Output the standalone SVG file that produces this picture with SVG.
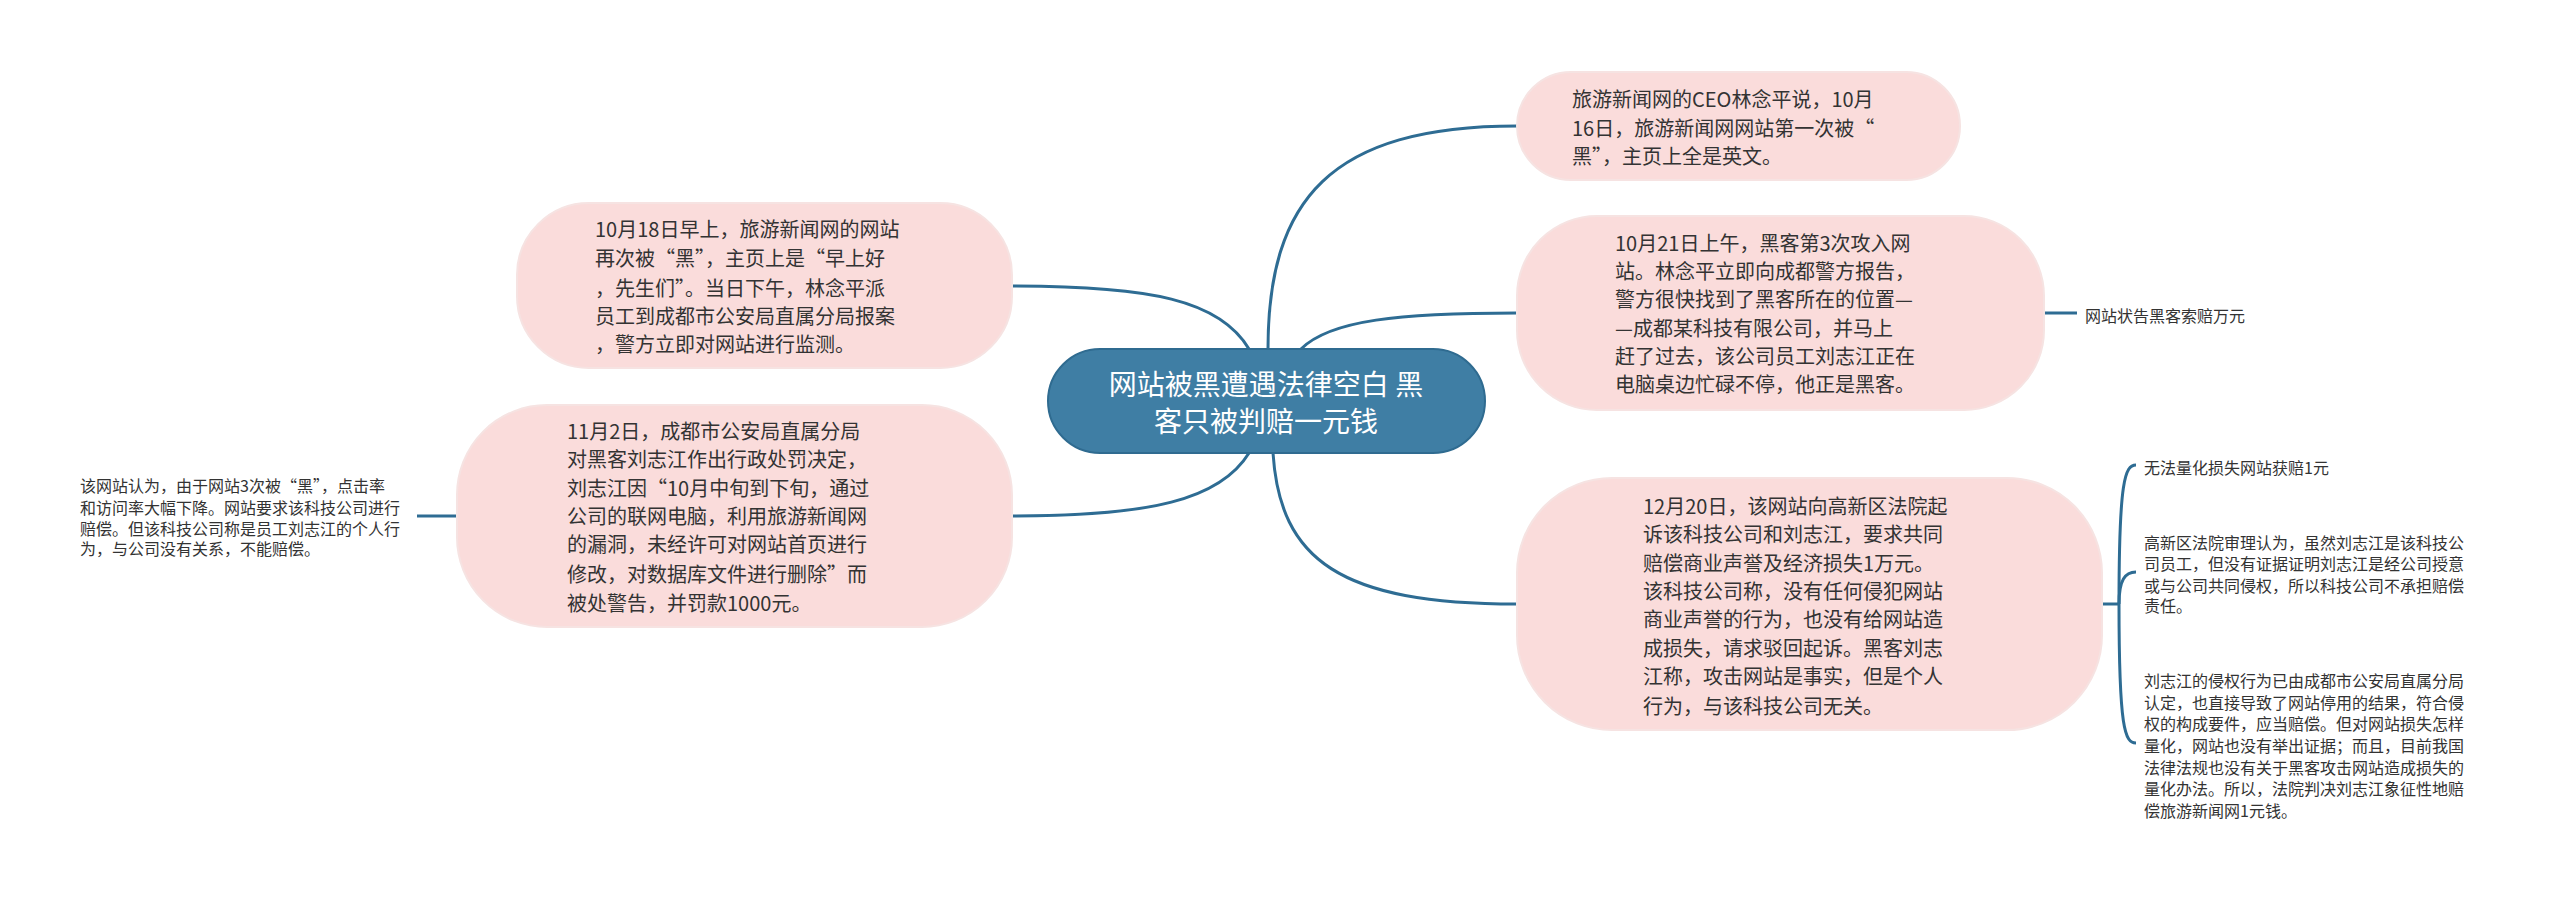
<svg xmlns="http://www.w3.org/2000/svg" width="2560" height="899" viewBox="0 0 2560 899">
<style>
.n{fill:#fadcdb;stroke:#f6e3e2;stroke-width:2}
.c{fill:#3f7ea4;stroke:#2f6b90;stroke-width:2}
.t{font-family:"Noto Sans CJK SC","Liberation Sans",sans-serif;font-size:20px;fill:#333;dominant-baseline:central}
.ct{font-family:"Noto Sans CJK SC","Liberation Sans",sans-serif;font-size:28px;fill:#fff;dominant-baseline:central;text-anchor:middle}
.s{font-family:"Noto Sans CJK SC","Liberation Sans",sans-serif;font-size:16px;fill:#333;dominant-baseline:central}
.l{fill:none;stroke:#2e6c93;stroke-width:3}
</style>
<rect width="2560" height="899" fill="#fff"/>
<g id="connectors">
<path class="l" d="M1268 349 C1268 200 1330 126 1517 126"/>
<path class="l" d="M1301 349 C1330 320 1400 313 1517 313"/>
<path class="l" d="M1249 349 C1220 300 1150 286 1012 286"/>
<path class="l" d="M1249 453 C1220 500 1150 516 1012 516"/>
<path class="l" d="M1273 453 C1280 560 1340 604 1517 604"/>
<path class="l" d="M457 516 L417 516"/>
<path class="l" d="M2044 313 L2077 313"/>
<path class="l" d="M2102 604 L2119 604"/>
<path class="l" stroke-width="2" d="M2119 604 C2119 480 2125 465 2136 465"/>
<path class="l" stroke-width="2" d="M2119 604 C2119 580 2125 572 2136 572"/>
<path class="l" stroke-width="2" d="M2119 604 C2119 730 2125 743 2136 743"/>
</g>
<g id="center"><rect class="c" x="1048" y="349" width="437" height="104" rx="52"/>
<text class="ct" x="1266" y="383">网站被黑遭遇法律空白 黑</text><text class="ct" x="1266" y="420">客只被判赔一元钱</text></g>
<g id="n1"><rect class="n" x="1517" y="72" width="443" height="108" rx="54"/>
<text class="t" x="1572" y="98">旅游新闻网的CEO林念平说，10月</text><text class="t" x="1572" y="127">16日，旅游新闻网网站第一次被“</text><text class="t" x="1572" y="155">黑”，主页上全是英文。</text></g>
<g id="n2"><rect class="n" x="1517" y="216" width="527" height="194" rx="80"/>
<text class="t" x="1615" y="242">10月21日上午，黑客第3次攻入网</text><text class="t" x="1615" y="270">站。林念平立即向成都警方报告，</text><text class="t" x="1615" y="298">警方很快找到了黑客所在的位置—</text><text class="t" x="1615" y="327">—成都某科技有限公司，并马上</text><text class="t" x="1615" y="355">赶了过去，该公司员工刘志江正在</text><text class="t" x="1615" y="383">电脑桌边忙碌不停，他正是黑客。</text></g>
<g id="n2a"><text class="s" x="2085" y="315">网站状告黑客索赔万元</text></g>
<g id="n3"><rect class="n" x="1517" y="478" width="585" height="252" rx="95"/>
<text class="t" x="1643" y="505">12月20日，该网站向高新区法院起</text><text class="t" x="1643" y="533">诉该科技公司和刘志江，要求共同</text><text class="t" x="1643" y="562">赔偿商业声誉及经济损失1万元。</text><text class="t" x="1643" y="590">该科技公司称，没有任何侵犯网站</text><text class="t" x="1643" y="618">商业声誉的行为，也没有给网站造</text><text class="t" x="1643" y="647">成损失，请求驳回起诉。黑客刘志</text><text class="t" x="1643" y="675">江称，攻击网站是事实，但是个人</text><text class="t" x="1643" y="705">行为，与该科技公司无关。</text></g>
<g id="n3a"><text class="s" x="2144" y="467">无法量化损失网站获赔1元</text></g>
<g id="n3b"><text class="s" x="2144" y="542">高新区法院审理认为，虽然刘志江是该科技公</text><text class="s" x="2144" y="563">司员工，但没有证据证明刘志江是经公司授意</text><text class="s" x="2144" y="585">或与公司共同侵权，所以科技公司不承担赔偿</text><text class="s" x="2144" y="605">责任。</text></g>
<g id="n3c"><text class="s" x="2144" y="680">刘志江的侵权行为已由成都市公安局直属分局</text><text class="s" x="2144" y="702">认定，也直接导致了网站停用的结果，符合侵</text><text class="s" x="2144" y="723">权的构成要件，应当赔偿。但对网站损失怎样</text><text class="s" x="2144" y="745">量化，网站也没有举出证据；而且，目前我国</text><text class="s" x="2144" y="767">法律法规也没有关于黑客攻击网站造成损失的</text><text class="s" x="2144" y="788">量化办法。所以，法院判决刘志江象征性地赔</text><text class="s" x="2144" y="810">偿旅游新闻网1元钱。</text></g>
<g id="l1"><rect class="n" x="517" y="203" width="495" height="165" rx="72"/>
<text class="t" x="595" y="228">10月18日早上，旅游新闻网的网站</text><text class="t" x="595" y="257">再次被“黑”，主页上是“早上好</text><text class="t" x="595" y="287">，先生们”。当日下午，林念平派</text><text class="t" x="595" y="315">员工到成都市公安局直属分局报案</text><text class="t" x="595" y="343">，警方立即对网站进行监测。</text></g>
<g id="l2"><rect class="n" x="457" y="405" width="555" height="222" rx="90"/>
<text class="t" x="567" y="430">11月2日，成都市公安局直属分局</text><text class="t" x="567" y="458">对黑客刘志江作出行政处罚决定，</text><text class="t" x="567" y="487">刘志江因“10月中旬到下旬，通过</text><text class="t" x="567" y="515">公司的联网电脑，利用旅游新闻网</text><text class="t" x="567" y="543">的漏洞，未经许可对网站首页进行</text><text class="t" x="567" y="573">修改，对数据库文件进行删除”而</text><text class="t" x="567" y="602">被处警告，并罚款1000元。</text></g>
<g id="l2a"><text class="s" x="80" y="485">该网站认为，由于网站3次被“黑”，点击率</text><text class="s" x="80" y="507">和访问率大幅下降。网站要求该科技公司进行</text><text class="s" x="80" y="528">赔偿。但该科技公司称是员工刘志江的个人行</text><text class="s" x="80" y="548">为，与公司没有关系，不能赔偿。</text></g>
</svg>
